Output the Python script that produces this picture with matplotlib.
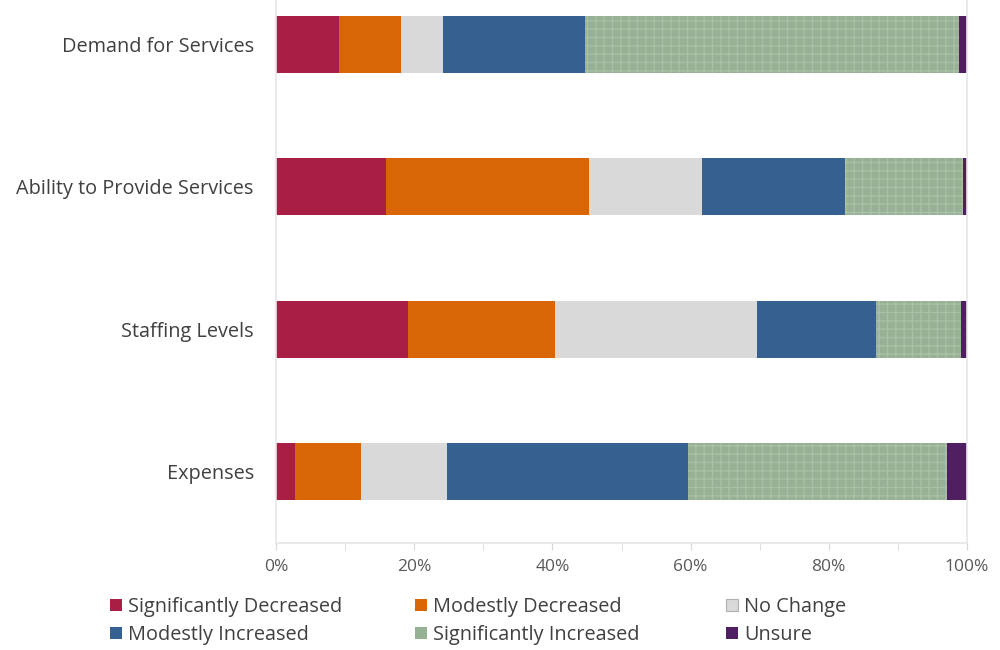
import matplotlib.pyplot as plt
from matplotlib.patches import Patch
from matplotlib.ticker import MultipleLocator, PercentFormatter

plt.rcParams['font.family'] = ['Open Sans', 'DejaVu Sans']
plt.rcParams['hatch.linewidth'] = 1.0

categories = ["Expenses", "Staffing Levels", "Ability to Provide Services", "Demand for Services"]
series = ["Significantly Decreased", "Modestly Decreased", "No Change",
          "Modestly Increased", "Significantly Increased", "Unsure"]
values = {
    "Significantly Decreased": [2.7, 19.1, 15.9, 9.1],
    "Modestly Decreased": [9.6, 21.3, 29.4, 9.0],
    "No Change": [12.4, 29.2, 16.3, 6.1],
    "Modestly Increased": [34.9, 17.2, 20.7, 20.5],
    "Significantly Increased": [37.5, 12.3, 17.1, 54.1],
    "Unsure": [2.9, 0.9, 0.6, 1.2],
}
colors = {
    "Significantly Decreased": "#a91e44",
    "Modestly Decreased": "#d96606",
    "No Change": "#d9d9d9",
    "Modestly Increased": "#356090",
    "Significantly Increased": "#97b195",
    "Unsure": "#4f1f62",
}

fig = plt.figure(figsize=(10, 6.5), dpi=100)
ax = fig.add_axes([0.276, 0.165, 0.691, 0.835])

y = list(range(len(categories)))
left = [0.0] * len(categories)
for s in series:
    vals = values[s]
    if s == "Significantly Increased":
        ax.barh(y, vals, left=left, height=0.4, color=colors[s],
                edgecolor="#a9bfa7", linewidth=0, hatch="++")
    else:
        ax.barh(y, vals, left=left, height=0.4, color=colors[s], linewidth=0)
    left = [a + b for a, b in zip(left, vals)]

ax.set_xlim(0, 100)
ax.set_ylim(-0.5, 3.31)
ax.set_yticks(y)
ax.set_yticklabels(categories, fontsize=14.3, color="#404040")
ax.xaxis.set_major_locator(MultipleLocator(20))
ax.xaxis.set_minor_locator(MultipleLocator(10))
ax.xaxis.set_major_formatter(PercentFormatter(decimals=0))
ax.tick_params(axis="x", which="both", length=5, color="#d9d9d9",
               labelsize=12.5, labelcolor="#595959", pad=7)
ax.tick_params(axis="y", length=0, pad=16)
for side in ["left", "right", "bottom"]:
    ax.spines[side].set_color("#e6e6e6")
    ax.spines[side].set_linewidth(1.2)
ax.spines["top"].set_visible(False)

columns = [("Significantly Decreased", "Modestly Increased"),
           ("Modestly Decreased", "Significantly Increased"),
           ("No Change", "Unsure")]
col_x = [0.100, 0.405, 0.716]
for cx, col in zip(col_x, columns):
    handles = []
    for s in col:
        if s == "Significantly Increased":
            handles.append(Patch(facecolor=colors[s], edgecolor="#a9bfa7", linewidth=0, label=s))
        elif s == "No Change":
            handles.append(Patch(facecolor=colors[s], edgecolor="#b0b0b0", linewidth=0.8, label=s))
        else:
            handles.append(Patch(facecolor=colors[s], linewidth=0, label=s))
    leg = fig.legend(handles=handles, loc="upper left", bbox_to_anchor=(cx, 0.097),
                     frameon=False, fontsize=14.3, handlelength=0.6, handleheight=0.6,
                     handletextpad=0.3, labelspacing=0.4, borderpad=0)
    for t in leg.get_texts():
        t.set_color("#404040")

fig.savefig("out.png", dpi=100)
